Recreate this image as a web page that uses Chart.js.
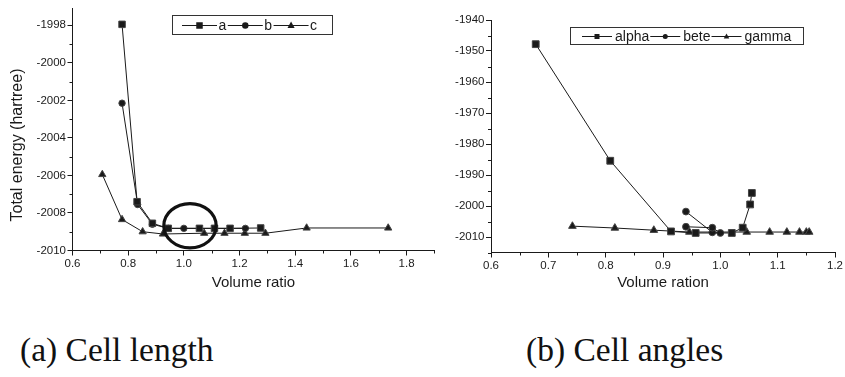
<!DOCTYPE html>
<html>
<head>
<meta charset="utf-8">
<script src="https://cdn.jsdelivr.net/npm/chart.js@4.4.0/dist/chart.umd.min.js"></script>
<style>
  html, body { margin: 0; padding: 0; background: #fff; }
  body { width: 845px; height: 377px; position: relative; overflow: hidden; }
  canvas { position: absolute; top: 0; }
  #left { left: 0; }
  #right { left: 430px; }
  .cap { position: absolute; font-family: "Liberation Serif", serif; font-size: 33.5px; line-height: 34px; color: #111; white-space: nowrap; }
</style>
</head>
<body>
<canvas id="left" width="440" height="300"></canvas>
<canvas id="right" width="415" height="300"></canvas>
<div class="cap" style="left:20px; top:333px;">(a) Cell length</div>
<div class="cap" style="left:526px; top:333px;">(b) Cell angles</div>
<script>
// (a) cell length
const aX = [0.778, 0.832, 0.887, 0.944, 1.056, 1.110, 1.166, 1.276];
const aY = [-1997.95, -2007.4, -2008.55, -2008.82, -2008.82, -2008.82, -2008.82, -2008.8];
const bX = [0.778, 0.834, 0.887, 0.944, 1.000, 1.221];
const bY = [-2002.15, -2007.55, -2008.6, -2008.82, -2008.82, -2008.82];
const cX = [0.707, 0.778, 0.852, 0.925, 1.073, 1.146, 1.219, 1.293, 1.441, 1.734];
const cY = [-2005.95, -2008.35, -2009.0, -2009.12, -2009.08, -2009.08, -2009.08, -2009.08, -2008.8, -2008.8];
const lenXTicks = [0.6, 0.8, 1.0, 1.2, 1.4, 1.6, 1.8];
const lenYTicks = [-2010, -2008, -2006, -2004, -2002, -2000, -1998];

// (b) cell angles
const alphaX = [0.678, 0.808, 0.914, 0.957, 1.020, 1.039, 1.052, 1.055];
const alphaY = [-1947.8, -1985.4, -2008.2, -2008.7, -2008.7, -2007.0, -1999.5, -1995.8];
const beteX = [0.940, 0.986, 1.000, 0.986, 0.940];
const beteY = [-2001.8, -2008.5, -2008.7, -2007.0, -2006.7];
const gammaX = [0.742, 0.816, 0.884, 0.946, 1.046, 1.086, 1.116, 1.138, 1.150, 1.155];
const gammaY = [-2006.5, -2007.1, -2007.8, -2008.4, -2008.4, -2008.4, -2008.4, -2008.4, -2008.4, -2008.4];
const angXTicks = [0.6, 0.7, 0.8, 0.9, 1.0, 1.1, 1.2];
const angYTicks = [-2010, -2000, -1990, -1980, -1970, -1960, -1950, -1940];

// circled minimum on (a)
const ringCenter = [1.022, -2008.68];
const ringRadius = [0.094, 1.18];

const ink = '#1a1a1a';
const sans = 'Liberation Sans, Arial, sans-serif';

const toPoints = (xs, ys) => xs.map((x, i) => ({ x: x, y: ys[i] }));

const serie = (label, xs, ys, style, radius) => ({
  label: label,
  data: toPoints(xs, ys),
  showLine: true,
  borderColor: ink,
  borderWidth: 1,
  pointStyle: style,
  pointRadius: radius,
  pointHoverRadius: radius,
  pointBackgroundColor: ink,
  pointBorderColor: '#444',
  pointBorderWidth: 1
});

const drawMarker = (ctx, style, x, y, s) => {
  ctx.beginPath();
  if (style === 'rect') {
    ctx.rect(x - s / 2, y - s / 2, s, s);
  } else if (style === 'circle') {
    ctx.arc(x, y, s / 2, 0, Math.PI * 2);
  } else {
    ctx.moveTo(x, y - s * 0.6);
    ctx.lineTo(x + s * 0.55, y + s * 0.4);
    ctx.lineTo(x - s * 0.55, y + s * 0.4);
    ctx.closePath();
  }
  ctx.fill();
};

// short ticks half way between the labelled ones
const minorTicks = {
  id: 'minorTicks',
  afterDraw(chart) {
    const ctx = chart.ctx;
    ctx.save();
    ctx.strokeStyle = ink;
    ctx.lineWidth = 1;
    Object.values(chart.scales).forEach(scale => {
      const vals = scale.ticks.map(t => t.value);
      if (vals.length < 2) return;
      const half = (vals[1] - vals[0]) / 2;
      ctx.beginPath();
      for (let v = vals[0] - half; v <= scale.max + 1e-9; v += 2 * half) {
        if (v < scale.min - 1e-9) continue;
        const p = Math.round(scale.getPixelForValue(v)) + 0.5;
        if (scale.isHorizontal()) {
          ctx.moveTo(p, scale.top);
          ctx.lineTo(p, scale.top + 3);
        } else {
          ctx.moveTo(scale.right, p);
          ctx.lineTo(scale.right - 3, p);
        }
      }
      ctx.stroke();
    });
    ctx.restore();
  }
};

// origin style legend: line - marker - line - label
const lineLegend = {
  id: 'lineLegend',
  afterDraw(chart, args, opts) {
    const ctx = chart.ctx;
    const box = opts.box;
    ctx.save();
    ctx.strokeStyle = '#333';
    ctx.lineWidth = 1;
    ctx.strokeRect(box[0] + 0.5, box[1] + 0.5, box[2], box[3]);
    ctx.font = opts.font;
    ctx.textBaseline = 'middle';
    ctx.fillStyle = ink;
    ctx.strokeStyle = ink;
    let x = box[0] + opts.pad;
    const y = Math.round(box[1] + box[3] / 2);
    chart.data.datasets.forEach(ds => {
      ctx.beginPath();
      ctx.moveTo(x, y + 0.5);
      ctx.lineTo(x + opts.seg, y + 0.5);
      ctx.stroke();
      drawMarker(ctx, ds.pointStyle, x + opts.seg / 2, y + 0.5, opts.marker);
      x += opts.seg + opts.gap;
      ctx.fillText(ds.label, x, y + 1);
      x += ctx.measureText(ds.label).width + opts.after;
    });
    ctx.restore();
  }
};

const ring = {
  id: 'ring',
  afterDatasetsDraw(chart, args, opts) {
    const ctx = chart.ctx;
    const sx = chart.scales.x, sy = chart.scales.y;
    const cx = sx.getPixelForValue(opts.center[0]);
    const cy = sy.getPixelForValue(opts.center[1]);
    const rx = Math.abs(sx.getPixelForValue(opts.center[0] + opts.radius[0]) - cx);
    const ry = Math.abs(sy.getPixelForValue(opts.center[1] + opts.radius[1]) - cy);
    ctx.save();
    ctx.strokeStyle = '#111';
    ctx.lineWidth = 3.2;
    ctx.beginPath();
    ctx.ellipse(cx, cy, rx, ry, 0, 0, Math.PI * 2);
    ctx.stroke();
    ctx.restore();
  }
};

const tickFont = { family: sans, size: 11.5 };
const titleFont = { family: sans, size: 15 };

const xAxis = (min, max, ticks, text, height) => ({
  type: 'linear',
  min: min,
  max: max,
  afterBuildTicks: s => { s.ticks = ticks.map(v => ({ value: v })); },
  afterFit: s => { s.height = height; },
  ticks: { font: tickFont, color: ink, padding: 1, maxRotation: 0, autoSkip: false, callback: v => v.toFixed(1) },
  grid: { drawOnChartArea: false, drawTicks: true, tickLength: 5, tickColor: ink, tickWidth: 1 },
  border: { display: true, color: ink, width: 1 },
  title: { display: true, text: text, font: titleFont, color: ink, padding: { top: 0, bottom: 8 } }
});

const yAxis = (min, max, ticks, text, width) => ({
  type: 'linear',
  min: min,
  max: max,
  afterBuildTicks: s => { s.ticks = ticks.map(v => ({ value: v })); },
  afterFit: s => { s.width = width; },
  ticks: { font: tickFont, color: ink, padding: 1.5, autoSkip: false, callback: v => String(v) },
  grid: { drawOnChartArea: false, drawTicks: true, tickLength: 5, tickColor: ink, tickWidth: 1 },
  border: { display: true, color: ink, width: 1 },
  title: { display: !!text, text: text, font: { family: sans, size: 16 }, color: ink, padding: { top: 8, bottom: 0 } }
});

new Chart(document.getElementById('left'), {
  type: 'scatter',
  data: {
    datasets: [
      serie('a', aX, aY, 'rect', 4.6),
      serie('b', bX, bY, 'circle', 3.2),
      serie('c', cX, cY, 'triangle', 4.2)
    ]
  },
  options: {
    responsive: false,
    animation: false,
    events: [],
    layout: { padding: { top: 5, right: 2, left: 0, bottom: 0 } },
    scales: {
      x: xAxis(0.6, 1.9, lenXTicks, 'Volume ratio', 49.5),
      // trailing spaces push the rotated title down a little, as in the figure
      y: yAxis(-2010, -1997.1, lenYTicks, 'Total energy (hartree)       ', 72.5)
    },
    plugins: {
      legend: { display: false },
      tooltip: { enabled: false },
      lineLegend: { box: [172, 15, 160, 19], pad: 10, seg: 35, gap: 1.5, after: 1.5, marker: 6.5, font: '14px ' + sans },
      ring: { center: ringCenter, radius: ringRadius }
    }
  },
  plugins: [minorTicks, lineLegend, ring]
});

new Chart(document.getElementById('right'), {
  type: 'scatter',
  data: {
    datasets: [
      serie('alpha', alphaX, alphaY, 'rect', 4.8),
      serie('bete', beteX, beteY, 'circle', 3.4),
      serie('gamma', gammaX, gammaY, 'triangle', 4.4)
    ]
  },
  options: {
    responsive: false,
    animation: false,
    events: [],
    layout: { padding: { top: 20, right: 10, left: 0, bottom: 0 } },
    scales: {
      x: xAxis(0.6, 1.2, angXTicks, 'Volume ration', 47.5),
      y: yAxis(-2015, -1940, angYTicks, '', 61)
    },
    plugins: {
      legend: { display: false },
      tooltip: { enabled: false },
      lineLegend: { box: [140, 27, 233, 17], pad: 12, seg: 30, gap: 3, after: 1, marker: 5, font: '14px ' + sans }
    }
  },
  plugins: [minorTicks, lineLegend]
});
</script>
</body>
</html>
